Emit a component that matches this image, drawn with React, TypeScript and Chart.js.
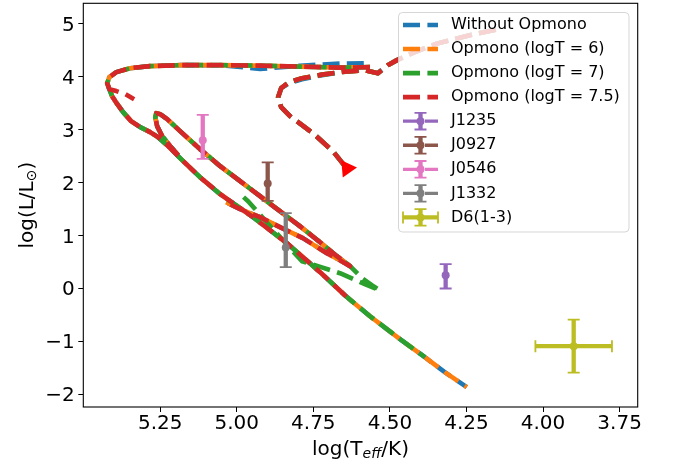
import React, { useEffect, useRef } from 'react';
import { Chart, registerables } from 'chart.js';
Chart.register(...registerables);

const FONT = '"DejaVu Sans", "Liberation Sans", sans-serif';

// ---------- axis ----------
const xMin = 3.691;
const xMax = 5.501;
const yMin = -2.24;
const yMax = 5.39;
const xTicks = [5.25, 5.0, 4.75, 4.5, 4.25, 4.0, 3.75];
const yTicks = [-2, -1, 0, 1, 2, 3, 4, 5];

// ---------- series ----------
const seriesNames = ['Without Opmono', 'Opmono (logT = 6)', 'Opmono (logT = 7)', 'Opmono (logT = 7.5)'];
const seriesColors = ['#1f77b4', '#ff7f0e', '#2ca02c', '#d62728'];

// arc from the arrow head up, over and out to the top right
const arcT = [4.647, 4.686, 4.751, 4.826, 4.855, 4.865, 4.855, 4.829, 4.787, 4.722, 4.647, 4.582, 4.539, 4.507, 4.477, 4.419, 4.347, 4.239, 4.132];
const arcL = [2.312, 2.595, 2.934, 3.257, 3.427, 3.616, 3.786, 3.900, 3.975, 4.042, 4.098, 4.127, 4.070, 4.221, 4.316, 4.467, 4.628, 4.788, 4.921];
const arcBlueL = [2.312, 2.595, 2.934, 3.257, 3.427, 3.616, 3.786, 3.880, 3.955, 4.030, 4.098, 4.127, 4.070, 4.221, 4.316, 4.467, 4.628, 4.788, 4.921];

// horizontal branch to the hot end
const topT = [4.565, 4.663, 4.794, 4.924, 5.054, 5.185, 5.283, 5.348, 5.393, 5.416, 5.423, 5.416];
const topL = [4.183, 4.174, 4.193, 4.212, 4.221, 4.221, 4.202, 4.164, 4.089, 3.994, 3.881, 3.767];
const topBlueL = [4.26, 4.25, 4.21, 4.15, 4.22, 4.221, 4.202, 4.164, 4.089, 3.994, 3.881, 3.767];

// small spur of the logT = 7.5 model
const spurT = [5.416, 5.393, 5.364, 5.335];
const spurL = [3.767, 3.731, 3.673, 3.578];

// main cooling line
const mainT = [5.407, 5.390, 5.371, 5.345, 5.315, 5.283, 5.257, 5.224, 5.185, 5.120, 5.054, 4.947, 4.836, 4.728, 4.647, 4.624, 4.565, 4.467, 4.386, 4.321, 4.249];
const mainL = [3.635, 3.483, 3.333, 3.163, 3.049, 2.955, 2.860, 2.690, 2.463, 2.104, 1.783, 1.348, 0.856, 0.308, -0.127, -0.240, -0.524, -0.958, -1.299, -1.582, -1.866];
const greenEndT = 4.386;
const redEndT = 4.624;

// hairpin loop
const hairT = [5.191, 5.217, 5.2435, 5.260, 5.266, 5.263, 5.250, 5.227, 5.185, 5.120, 5.054, 4.989, 4.924, 4.859, 4.794, 4.728, 4.673, 4.630];
const hairL = [2.518, 2.690, 2.879, 3.068, 3.238, 3.314, 3.295, 3.200, 2.974, 2.634, 2.312, 2.028, 1.745, 1.461, 1.178, 0.875, 0.611, 0.422];
const retT = [4.663, 4.706, 4.784, 4.859, 4.924, 4.989, 5.035];
const retL = [0.535, 0.667, 0.951, 1.159, 1.348, 1.499, 1.631];
const greenTipT = [4.591, 4.559, 4.533, 4.582, 4.663, 4.735, 4.787, 4.820, 4.849, 4.908, 4.963, 4.996];
const greenTipL = [0.195, 0.063, -0.032, 0.081, 0.289, 0.422, 0.516, 0.724, 0.913, 1.291, 1.650, 1.820];

// arrow head
const arrowT = [4.640];
const arrowL = [2.27];

// ---------- observations ----------
const obsNames = ['J1235', 'J0927', 'J0546', 'J1332', 'D6(1-3)'];
const obsColors = ['#9467bd', '#8c564b', '#e377c2', '#7f7f7f', '#bcbd22'];
const obsT = [4.318, 4.899, 5.111, 4.840, 3.900];
const obsL = [0.25, 1.985, 2.80, 0.775, -1.09];
const obsLErrUp = [0.21, 0.40, 0.48, 0.65, 0.50];
const obsLErrDown = [0.25, 0.33, 0.35, 0.37, 0.50];
const obsTErr = [0, 0, 0, 0, 0.125];

// ---------- helpers ----------
type P = { x: number | null; y: number | null };
const pts = (T: number[], L: number[]): P[] => T.map((t, i) => ({ x: t, y: L[i] }));
const GAP: P = { x: null, y: null };
const path = (...segs: P[][]): P[] => {
  const out: P[] = [];
  segs.forEach((s, i) => {
    if (i) out.push(GAP);
    out.push(...s);
  });
  return out;
};
const mainPts = pts(mainT, mainL);

// start of each track (arrow branch): same dash phase for all models
const startData: P[][] = [pts(arcT, arcBlueL), pts(arcT, arcL), pts(arcT, arcL), pts(arcT, arcL)];
// remainder of each track
const restData: P[][] = [
  path([...pts(topT, topBlueL), ...mainPts], [...pts(hairT, hairL), ...pts(retT, retL)]),
  path([...pts(topT, topL), ...mainPts], [...pts(hairT, hairL), ...pts(retT, retL)]),
  path([...pts(topT, topL), ...mainPts.filter((p) => (p.x as number) >= greenEndT)], [...pts(hairT, hairL), ...pts(greenTipT, greenTipL)]),
  path([...pts(topT, topL), ...pts(spurT, spurL)], mainPts.filter((p) => (p.x as number) >= redEndT), [...pts(hairT, hairL), ...pts(retT, retL)]),
];

const LW = 4.6;
const DASH = [17, 7.4];
const dashVariants = [[17, 7.2], [16.7, 7.6], [17.3, 7.4], [17, 7.4]];
const dashOffsets = [18, 12, 6, 0];

const errorBarPlugin = {
  id: 'errbars',
  beforeDatasetDraw(chart: any, args: any) {
    const ds = chart.data.datasets[args.index];
    if (ds.obsIndex === undefined) return;
    const i = ds.obsIndex;
    const xs = chart.scales.x;
    const ys = chart.scales.y;
    const ctx = chart.ctx;
    const cx = xs.getPixelForValue(obsT[i]);
    const cy = ys.getPixelForValue(obsL[i]);
    const yt = ys.getPixelForValue(obsL[i] + obsLErrUp[i]);
    const yb = ys.getPixelForValue(obsL[i] - obsLErrDown[i]);
    ctx.save();
    ctx.strokeStyle = obsColors[i];
    ctx.lineCap = 'butt';
    ctx.lineWidth = 4.3;
    ctx.beginPath();
    ctx.moveTo(cx, yt);
    ctx.lineTo(cx, yb);
    if (obsTErr[i] > 0) {
      const xl = xs.getPixelForValue(obsT[i] + obsTErr[i]);
      const xr = xs.getPixelForValue(obsT[i] - obsTErr[i]);
      ctx.moveTo(xl, cy);
      ctx.lineTo(xr, cy);
      ctx.stroke();
      ctx.lineWidth = 1.8;
      ctx.beginPath();
      ctx.moveTo(xl, cy - 6);
      ctx.lineTo(xl, cy + 6);
      ctx.moveTo(xr, cy - 6);
      ctx.lineTo(xr, cy + 6);
    }
    ctx.stroke();
    ctx.lineWidth = 1.8;
    ctx.beginPath();
    ctx.moveTo(cx - 6, yt);
    ctx.lineTo(cx + 6, yt);
    ctx.moveTo(cx - 6, yb);
    ctx.lineTo(cx + 6, yb);
    ctx.stroke();
    ctx.restore();
  },
};

const framePlugin = {
  id: 'frame',
  afterDatasetsDraw(chart: any) {
    const { left, right, top, bottom } = chart.chartArea;
    const ctx = chart.ctx;
    ctx.save();
    ctx.strokeStyle = '#000';
    ctx.lineWidth = 1.1;
    ctx.strokeRect(left, top, right - left, bottom - top);
    ctx.restore();
  },
};

type Piece = { t: string; font: string; dy: number };
const drawPieces = (ctx: CanvasRenderingContext2D, pieces: Piece[], startX: number, y: number) => {
  let x = startX;
  pieces.forEach((p) => {
    ctx.font = p.font;
    ctx.fillText(p.t, x, y + p.dy);
    x += ctx.measureText(p.t).width;
  });
};
const piecesWidth = (ctx: CanvasRenderingContext2D, pieces: Piece[]) => {
  let w = 0;
  pieces.forEach((p) => {
    ctx.font = p.font;
    w += ctx.measureText(p.t).width;
  });
  return w;
};

const overlayPlugin = {
  id: 'overlay',
  afterDraw(chart: any) {
    const ctx: CanvasRenderingContext2D = chart.ctx;
    const area = chart.chartArea;
    ctx.save();
    ctx.fillStyle = '#000';
    ctx.textBaseline = 'middle';
    ctx.textAlign = 'left';
    // x title
    const xp: Piece[] = [
      { t: 'log(T', font: `20px ${FONT}`, dy: 0 },
      { t: 'eff', font: `italic 14px ${FONT}`, dy: 4 },
      { t: '/K)', font: `20px ${FONT}`, dy: 0 },
    ];
    const xw = piecesWidth(ctx, xp);
    drawPieces(ctx, xp, (area.left + area.right) / 2 - xw / 2, 450);
    // y title
    const yp: Piece[] = [
      { t: 'log(L/L', font: `20px ${FONT}`, dy: 0 },
      { t: '\u2299', font: `14px ${FONT}`, dy: 4 },
      { t: ')', font: `20px ${FONT}`, dy: 0 },
    ];
    const yw = piecesWidth(ctx, yp);
    ctx.save();
    ctx.translate(28, (area.top + area.bottom) / 2);
    ctx.rotate(-Math.PI / 2);
    drawPieces(ctx, yp, -yw / 2, 0);
    ctx.restore();

    // legend
    const bx = 398.5, by = 12.5, bw = 230.5, bh = 219.5;
    ctx.beginPath();
    (ctx as any).roundRect(bx, by, bw, bh, 4);
    ctx.fillStyle = 'rgba(255,255,255,0.8)';
    ctx.fill();
    ctx.strokeStyle = 'rgba(204,204,204,0.8)';
    ctx.lineWidth = 1;
    ctx.stroke();
    const hx0 = 403, hx1 = 438, hc = 420.5, tx = 451;
    const rowY = (k: number) => 25 + k * 24.05;
    const labels = [...seriesNames, ...obsNames];
    labels.forEach((name, k) => {
      const y = rowY(k);
      ctx.save();
      if (k < 4) {
        ctx.strokeStyle = seriesColors[k];
        ctx.lineWidth = LW;
        ctx.lineCap = 'butt';
        ctx.setLineDash(DASH);
        ctx.beginPath();
        ctx.moveTo(hx0, y);
        ctx.lineTo(hx1, y);
        ctx.stroke();
      } else {
        const i = k - 4;
        const c = obsColors[i];
        ctx.strokeStyle = c;
        ctx.fillStyle = c;
        ctx.lineCap = 'butt';
        if (obsTErr[i] > 0) {
          ctx.lineWidth = 4.3;
          ctx.beginPath();
          ctx.moveTo(hx0, y);
          ctx.lineTo(hx1, y);
          ctx.stroke();
          ctx.lineWidth = 1.8;
          ctx.beginPath();
          ctx.moveTo(hx0, y - 6);
          ctx.lineTo(hx0, y + 6);
          ctx.moveTo(hx1, y - 6);
          ctx.lineTo(hx1, y + 6);
          ctx.stroke();
        } else {
          ctx.lineWidth = 3.3;
          ctx.setLineDash([15, 7]);
          ctx.beginPath();
          ctx.moveTo(hx0, y);
          ctx.lineTo(hx1, y);
          ctx.stroke();
          ctx.setLineDash([]);
        }
        ctx.lineWidth = 4.3;
        ctx.beginPath();
        ctx.moveTo(hc, y - 8.3);
        ctx.lineTo(hc, y + 8.3);
        ctx.stroke();
        ctx.lineWidth = 1.8;
        ctx.beginPath();
        ctx.moveTo(hc - 6, y - 8.3);
        ctx.lineTo(hc + 6, y - 8.3);
        ctx.moveTo(hc - 6, y + 8.3);
        ctx.lineTo(hc + 6, y + 8.3);
        ctx.stroke();
        ctx.beginPath();
        ctx.arc(hc, y, 4, 0, Math.PI * 2);
        ctx.fill();
      }
      ctx.restore();
      ctx.fillStyle = '#000';
      ctx.font = `16px ${FONT}`;
      ctx.textBaseline = 'middle';
      ctx.fillText(name, tx, y);
    });
    ctx.restore();
  },
};

export default function App() {
  const ref = useRef<HTMLCanvasElement>(null);
  useEffect(() => {
    Chart.defaults.font.family = FONT;
    const datasets: any[] = [];
    const lineBase = (k: number) => ({
      type: 'scatter',
      showLine: true,
      spanGaps: false,
      borderColor: seriesColors[k],
      backgroundColor: seriesColors[k],
      borderWidth: LW,
      borderCapStyle: 'butt',
      borderJoinStyle: 'round',
      pointRadius: 0,
      pointHoverRadius: 0,
      tension: 0,
      order: 4 - k,
    });
    seriesNames.forEach((name, k) => {
      datasets.push({ ...lineBase(k), label: name, data: restData[k], borderDash: dashVariants[k], borderDashOffset: dashOffsets[k] });
      datasets.push({ ...lineBase(k), label: name + ' start', data: startData[k], borderDash: DASH, borderDashOffset: 0 });
    });
    datasets.push({
      type: 'scatter',
      label: 'arrow',
      data: pts(arrowT, arrowL),
      pointStyle: 'triangle',
      rotation: 85,
      pointRadius: 10,
      backgroundColor: '#ff0000',
      borderColor: '#ff0000',
      borderWidth: 0,
      order: 0,
    });
    obsNames.forEach((name, i) => {
      datasets.push({
        type: 'scatter',
        label: name,
        obsIndex: i,
        data: [{ x: obsT[i], y: obsL[i] }],
        pointRadius: 4,
        pointHoverRadius: 4,
        backgroundColor: obsColors[i],
        borderWidth: 0,
        order: 0,
      });
    });
    const tickFont = { family: FONT, size: 20 };
    const chart = new Chart(ref.current as HTMLCanvasElement, {
      type: 'scatter',
      data: { datasets },
      options: {
        responsive: false,
        animation: false,
        devicePixelRatio: 1,
        events: [],
        layout: { autoPadding: false, padding: { top: 3.3, right: 37.3, left: 0, bottom: 0 } },
        plugins: { legend: { display: false }, tooltip: { enabled: false }, title: { display: false } },
        scales: {
          x: {
            type: 'linear',
            position: 'bottom',
            reverse: true,
            min: xMin,
            max: xMax,
            afterBuildTicks: (axis: any) => {
              axis.ticks = xTicks.map((v) => ({ value: v }));
            },
            afterFit: (axis: any) => {
              axis.height = 61;
              axis.paddingLeft = 0;
              axis.paddingRight = 0;
              axis.paddingTop = 0;
              axis.paddingBottom = 0;
            },
            ticks: {
              autoSkip: false,
              maxRotation: 0,
              minRotation: 0,
              padding: 0,
              color: '#000',
              font: tickFont,
              callback: (v: any) => Number(v).toFixed(2),
            },
            grid: { display: true, drawOnChartArea: false, drawTicks: true, tickLength: 5, tickWidth: 1, tickColor: '#000', color: '#000' },
            border: { display: false },
          },
          y: {
            type: 'linear',
            position: 'left',
            min: yMin,
            max: yMax,
            afterBuildTicks: (axis: any) => {
              axis.ticks = yTicks.map((v) => ({ value: v }));
            },
            afterFit: (axis: any) => {
              axis.width = 83.3;
              axis.paddingLeft = 0;
              axis.paddingRight = 0;
              axis.paddingTop = 0;
              axis.paddingBottom = 0;
            },
            ticks: {
              autoSkip: false,
              padding: 3.5,
              labelOffset: 1.8,
              color: '#000',
              font: tickFont,
              callback: (v: any) => (Number(v) < 0 ? '\u2212' + Math.abs(Number(v)) : String(v)),
            },
            grid: { display: true, drawOnChartArea: false, drawTicks: true, tickLength: 5, tickWidth: 1, tickColor: '#000', color: '#000' },
            border: { display: false },
          },
        },
      },
      plugins: [errorBarPlugin, framePlugin, overlayPlugin],
    } as any);
    return () => chart.destroy();
  }, []);
  return (
    <div style={{ position: 'fixed', left: 0, top: 0, width: 675, height: 468, background: '#fff' }}>
      <canvas ref={ref} width={675} height={468} style={{ display: 'block', width: 675, height: 468 }} />
    </div>
  );
}
